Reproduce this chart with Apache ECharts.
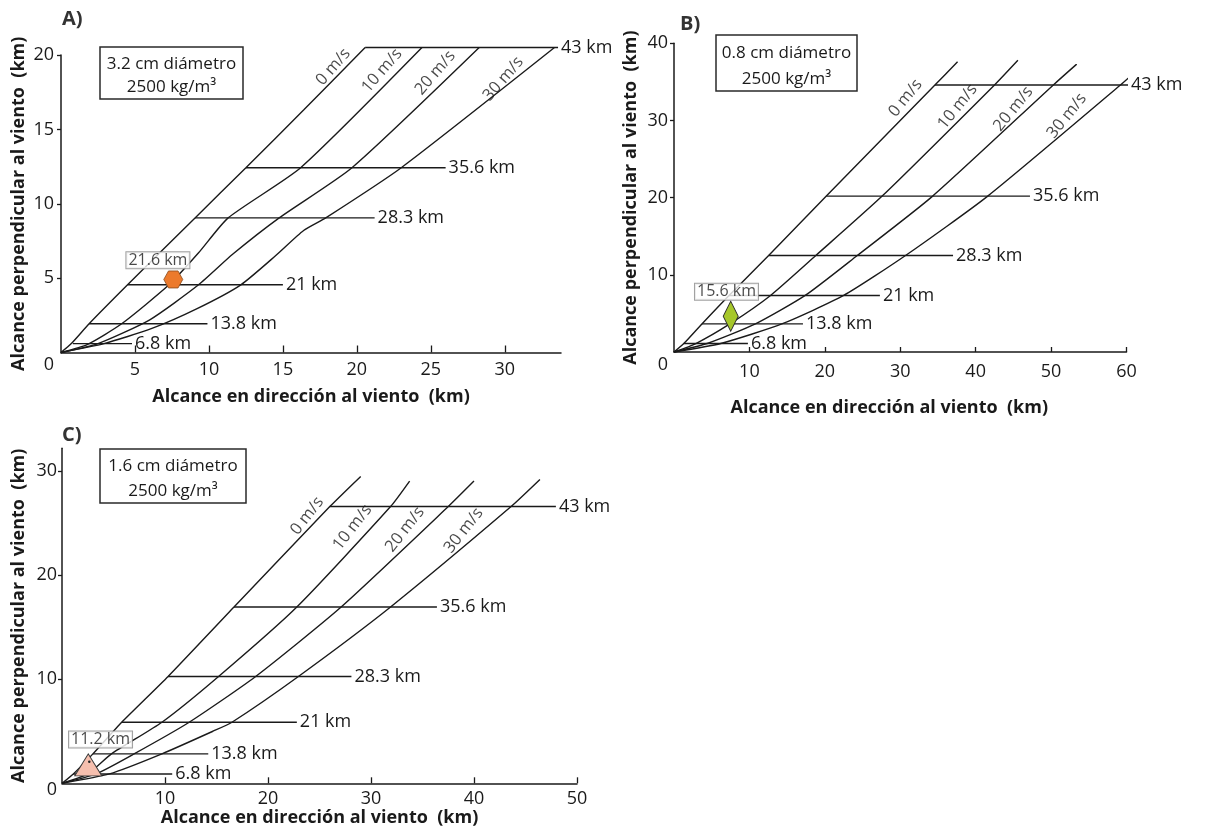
<!DOCTYPE html>
<html><head><meta charset="utf-8">
<script src="https://cdn.jsdelivr.net/npm/echarts@6/dist/echarts.min.js"></script>
<style>html,body{margin:0;padding:0;background:#fff}#c{width:1205px;height:837px}</style>
</head><body><div id="c"></div>
<script>
// ---------- DATA ----------
const windLabels = ['0 m/s', '10 m/s', '20 m/s', '30 m/s'];
const heightLabels = ['6.8 km', '13.8 km', '21 km', '28.3 km', '35.6 km', '43 km'];
const xTitle = 'Alcance en dirección al viento  (km)';
const yTitle = 'Alcance perpendicular al viento  (km)';
const panelLetters = ['A)', 'B)', 'C)'];
const diameters = ['3.2 cm diámetro', '0.8 cm diámetro', '1.6 cm diámetro'];
const densityText = '2500 kg/m³';
const markerLabels = ['21.6 km', '15.6 km', '11.2 km'];

// Panel A (3.2 cm)
const curvesA = [
  [[0,0],[0.7,0.6],[1.9,1.93],[4.5,4.55],[9.06,9.05],[12.5,12.42],[16.4,16.3],[20.56,20.5]],
  [[0,0],[1.8,0.55],[4.1,1.93],[7.3,4.55],[9.3,6.7],[11.3,9.05],[16.2,12.42],[24.4,20.5]],
  [[0,0],[2.5,0.6],[6.0,2.2],[9.3,4.55],[11.6,6.6],[14.75,9.05],[19.67,12.42],[28.27,20.5]],
  [[0,0],[2.9,0.6],[6.1,1.6],[9.2,2.95],[12.16,4.55],[14.5,6.5],[16.4,8.2],[17.9,9.05],[23.0,12.42],[33.36,20.5]]
];
const levelsA = [0.6, 1.93, 4.55, 9.05, 12.42, 20.5];
const startsA = [0.8, 1.9, 4.5, 9.06, 12.5, 20.56];
const endsA = [4.8, 9.9, 15.0, 21.2, 26.0, 33.6];
const windLabelPosA = [[18.4,19.2],[21.7,18.95],[25.3,18.8],[29.9,18.4]];
const markerA = [7.59, 4.91];
const markerLabelPosA = [6.55, 6.2];

// Panel B (0.8 cm)
const curvesB = [
  [[0,0],[1.3,1.1],[3.7,3.64],[7.3,7.33],[12.55,12.5],[20.2,20.2],[34.6,34.6],[37.6,37.6]],
  [[0,0],[2.9,1.1],[7.4,3.64],[12.8,7.33],[18.8,12.5],[27.6,20.2],[42.5,34.6],[45.6,37.8]],
  [[0,0],[4.4,1.1],[10.8,3.64],[17.4,7.33],[24.3,12.5],[34.3,20.2],[50.3,34.6],[53.4,37.3]],
  [[0,0],[6.2,1.1],[14.3,3.64],[22.5,7.33],[30.7,12.5],[41.6,20.2],[59.2,34.6],[62.3,37.3]]
];
const levelsB = [1.1, 3.64, 7.33, 12.5, 20.2, 34.6];
const startsB = [1.3, 3.7, 7.3, 12.55, 20.2, 34.6];
const endsB = [9.8, 17.1, 27.3, 37.0, 47.2, 62.0];
const windLabelPosB = [[30.7,32.9],[37.6,31.8],[45.0,31.5],[52.1,30.6]];
const markerB = [7.52, 4.63];
const markerLabelPosB = [6.96, 7.8];

// Panel C (1.6 cm)
const curvesC = [
  [[0,0],[1.1,0.9],[3.0,2.83],[5.8,5.87],[10.3,10.27],[16.7,16.95],[26.0,26.6],[29.0,29.5]],
  [[0,0],[2.5,0.9],[4.8,2.83],[9.7,5.87],[15.2,10.27],[22.8,16.95],[31.9,26.6],[33.75,29.05]],
  [[0,0],[3.3,0.9],[7.0,2.83],[12.35,5.87],[18.8,10.27],[27.1,16.95],[37.5,26.6],[40.0,29.05]],
  [[0,0],[4.6,0.9],[9.7,2.83],[14.6,4.98],[16.5,5.87],[22.95,10.27],[31.9,16.95],[43.6,26.6],[46.4,29.2]]
];
const levelsC = [0.9, 2.83, 5.87, 10.27, 16.95, 26.6];
const startsC = [1.1, 3.0, 5.8, 10.3, 16.7, 26.0];
const endsC = [10.7, 14.2, 22.8, 28.1, 36.4, 47.95];
const windLabelPosC = [[23.8,25.7],[28.2,24.6],[33.3,24.4],[39.0,24.3]];
const markerC = [2.55, 1.77];
const markerDotC = [2.65, 2.08];
const markerLabelPosC = [3.74, 4.2];

// Axis ticks
const xTicksA = [5, 10, 15, 20, 25, 30];
const yTicksA = [0, 5, 10, 15, 20];
const xTicksB = [10, 20, 30, 40, 50, 60];
const yTicksB = [0, 10, 20, 30, 40];
const xTicksC = [10, 20, 30, 40, 50];
const yTicksC = [0, 10, 20, 30];

// ---------- STYLE ----------
const ink = '#1a1a1a';
const FF = '"Open Sans", "DejaVu Sans", sans-serif';
const TICK_FS = 18;

function xAxisOf(i, max, ticks, tickLen, margin, nameGap, namePad) {
  return {
    gridIndex: i, type: 'value', min: 0, max: max,
    axisLine: { show: true, onZero: false, lineStyle: { color: ink, width: 1.5 } },
    axisTick: { show: true, inside: true, length: tickLen, customValues: ticks, lineStyle: { color: ink, width: 1.3 } },
    axisLabel: { customValues: ticks, margin: margin, fontSize: TICK_FS, color: ink, fontFamily: FF },
    splitLine: { show: false },
    name: xTitle, nameLocation: 'middle', nameGap: nameGap,
    nameTextStyle: { fontWeight: 'bold', fontSize: 18, color: ink, fontFamily: FF, padding: namePad }
  };
}
function yAxisOf(i, max, ticks, margin, zeroShift, nameGap) {
  return {
    gridIndex: i, type: 'value', min: 0, max: max,
    axisLine: { show: true, onZero: false, lineStyle: { color: ink, width: 1.5 } },
    axisTick: { show: true, inside: false, length: 4, customValues: ticks.filter(v => v !== 0), lineStyle: { color: ink, width: 1.3 } },
    axisLabel: {
      customValues: ticks, margin: margin, fontSize: TICK_FS, color: ink, fontFamily: FF,
      formatter: v => v === 0 ? '{z|0}' : String(v),
      rich: { z: { padding: [zeroShift * 2, 0, 0, 0], fontSize: TICK_FS, color: ink, fontFamily: FF } }
    },
    splitLine: { show: false },
    name: yTitle, nameLocation: 'middle', nameGap: nameGap,
    nameTextStyle: { fontWeight: 'bold', fontSize: 18, color: ink, fontFamily: FF }
  };
}

function panelSeries(i, curves, levels, starts, ends, windPos, rot) {
  const s = [];
  curves.forEach(c => s.push({
    type: 'line', xAxisIndex: i, yAxisIndex: i, data: c, symbol: 'none', showSymbol: false,
    smooth: 0.2, clip: false, silent: true, z: 2,
    lineStyle: { color: ink, width: 1.4 }
  }));
  levels.forEach((y, k) => s.push({
    type: 'line', xAxisIndex: i, yAxisIndex: i, data: [[starts[k], y], [ends[k], y]],
    symbol: 'none', showSymbol: false, clip: false, silent: true, z: 2,
    lineStyle: { color: ink, width: 1.4 },
    endLabel: { show: true, formatter: heightLabels[k], distance: 3, fontSize: 18, color: ink, fontFamily: FF }
  }));
  s.push({
    type: 'scatter', xAxisIndex: i, yAxisIndex: i, symbolSize: 0, silent: true, z: 3, clip: false,
    data: windPos.map((p, k) => ({ value: p, name: windLabels[k] })),
    label: { show: true, position: 'inside', formatter: '{b}', rotate: rot, fontSize: 16.5, color: ink, fontFamily: FF }
  });
  return s;
}
function markerLabelSeries(i, pos, text) {
  return {
    type: 'scatter', xAxisIndex: i, yAxisIndex: i, symbolSize: 0, silent: true, z: 8, clip: false,
    data: [{ value: pos, name: text }],
    label: { show: true, position: 'inside', formatter: '{b}', fontSize: 16, color: ink, fontFamily: FF,
      backgroundColor: '#fff', borderColor: '#8a8a8a', borderWidth: 1, padding: [0, 2, -1, 2], lineHeight: 17 }
  };
}

const hexPath = 'path://M-1,0 L-0.5,-0.866 L0.5,-0.866 L1,0 L0.5,0.866 L-0.5,0.866 Z';

const series = [].concat(
  panelSeries(0, curvesA, levelsA, startsA, endsA, windLabelPosA, 49),
  panelSeries(1, curvesB, levelsB, startsB, endsB, windLabelPosB, 51),
  panelSeries(2, curvesC, levelsC, startsC, endsC, windLabelPosC, 52),
  [
    { type: 'scatter', xAxisIndex: 0, yAxisIndex: 0, data: [markerA], symbol: hexPath, symbolSize: [19, 17], z: 6, silent: true,
      itemStyle: { color: '#EC7A2C', borderColor: '#8a4a1a', borderWidth: 0.8, opacity: 1 } },
    markerLabelSeries(0, markerLabelPosA, markerLabels[0]),
    { type: 'scatter', xAxisIndex: 1, yAxisIndex: 1, data: [markerB], symbol: 'diamond', symbolSize: [15, 30], z: 6, silent: true,
      itemStyle: { color: '#A6C72A', borderColor: '#2a2a2a', borderWidth: 1, opacity: 1 } },
    markerLabelSeries(1, markerLabelPosB, markerLabels[1]),
    { type: 'scatter', xAxisIndex: 2, yAxisIndex: 2, data: [markerC], symbol: 'triangle', symbolSize: [27, 22], z: 6, silent: true,
      itemStyle: { color: '#F6BFAE', borderColor: '#3a3a3a', borderWidth: 1, opacity: 1 } },
    { type: 'scatter', xAxisIndex: 2, yAxisIndex: 2, data: [markerDotC], symbolSize: 2.5, z: 7, silent: true,
      itemStyle: { color: '#222', opacity: 1 } },
    markerLabelSeries(2, markerLabelPosC, markerLabels[2])
  ]
);

function legendBox(x, y, w, h, line1, line2, dy1, dy2) {
  return [
    { type: 'rect', z: 10, shape: { x: x, y: y, width: w, height: h }, style: { fill: '#fff', stroke: '#2a2a2a', lineWidth: 1.5 } },
    { type: 'text', z: 11, x: x + w / 2, y: y + dy1, style: { text: line1, align: 'center', verticalAlign: 'middle', fontSize: 17, fontFamily: FF, fill: ink } },
    { type: 'text', z: 11, x: x + w / 2, y: y + dy2, style: { text: line2, align: 'center', verticalAlign: 'middle', fontSize: 17, fontFamily: FF, fill: ink } }
  ];
}

const option = {
  animation: false,
  backgroundColor: '#fff',
  grid: [
    { left: 61, top: 55, width: 500, height: 297.5 },
    { left: 674, top: 43.3, width: 452.5, height: 308.7 },
    { left: 62, top: 448.3, width: 515, height: 335 }
  ],
  xAxis: [
    xAxisOf(0, 33.8, xTicksA, 7, 8, 35, [0, 0, 0, 0]),
    xAxisOf(1, 60, xTicksB, 5, 11, 47, [0, 22, 0, 0]),
    xAxisOf(2, 50, xTicksC, 6, 7, 26, [0, 0, 0, 0])
  ],
  yAxis: [
    yAxisOf(0, 20, yTicksA, 7, 12, 33),
    yAxisOf(1, 40, yTicksB, 6, 13, 34),
    yAxisOf(2, 32.2, yTicksC, 5, 7, 34)
  ],
  graphic: [].concat(
    legendBox(100, 47, 143, 52, diameters[0], densityText, 17, 40),
    legendBox(716, 35, 141, 56, diameters[1], densityText, 18, 44),
    legendBox(100, 449, 146, 54, diameters[2], densityText, 17, 42),
    [
      { type: 'text', x: 62, y: 19, style: { text: panelLetters[0], verticalAlign: 'middle', fontSize: 20, fontWeight: 'bold', fontFamily: FF, fill: '#333' } },
      { type: 'text', x: 680, y: 24, style: { text: panelLetters[1], verticalAlign: 'middle', fontSize: 20, fontWeight: 'bold', fontFamily: FF, fill: '#333' } },
      { type: 'text', x: 62, y: 435, style: { text: panelLetters[2], verticalAlign: 'middle', fontSize: 20, fontWeight: 'bold', fontFamily: FF, fill: '#333' } }
    ]
  ),
  series: series
};

const chart = echarts.init(document.getElementById('c'), null, { renderer: 'canvas' });
chart.setOption(option);
</script>
</body></html>
